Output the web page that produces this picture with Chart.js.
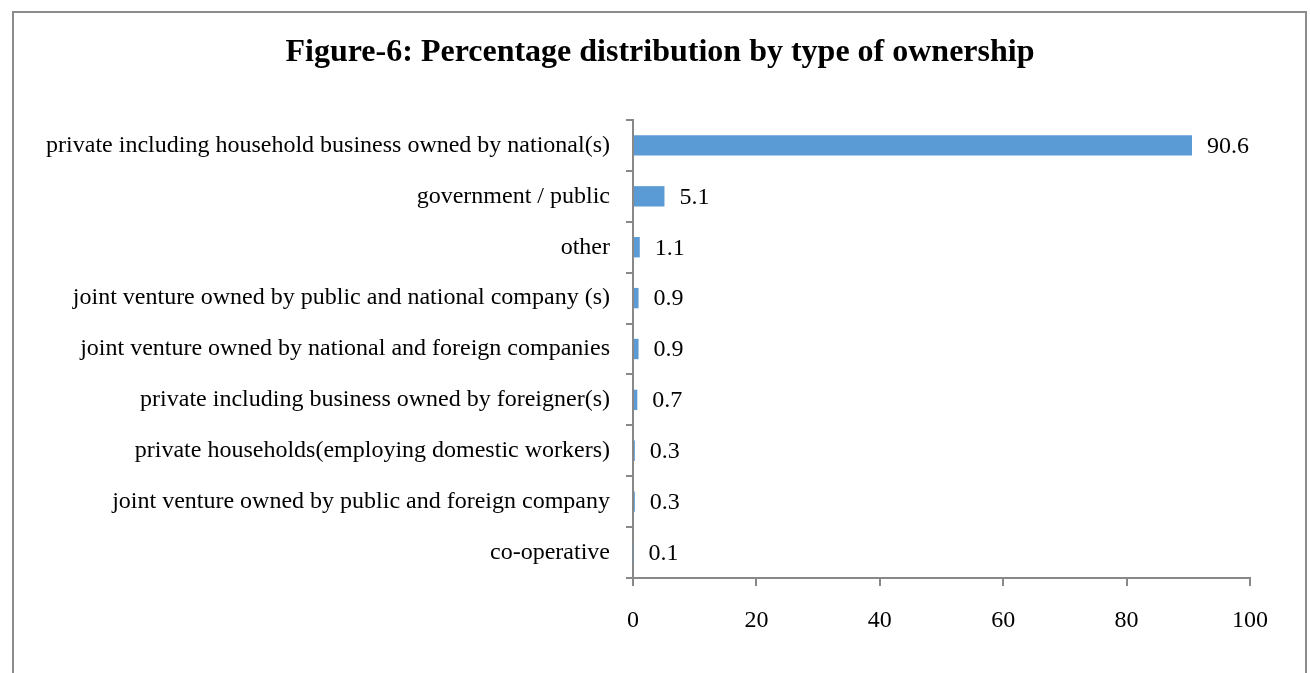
<!DOCTYPE html>
<html>
<head>
<meta charset="utf-8">
<script src="https://cdn.jsdelivr.net/npm/chart.js@4/dist/chart.umd.min.js"></script>
<style>
  html, body { margin: 0; padding: 0; background: #fff; }
  #wrap { width: 1310px; height: 673px; position: relative; }
</style>
</head>
<body>
<div id="wrap"><canvas id="c" width="1310" height="673"></canvas></div>
<script>
const titleText = 'Figure-6: Percentage distribution by type of ownership';

const categories = [
  'private including household business owned by national(s)',
  'government / public',
  'other',
  'joint venture owned by public and national company (s)',
  'joint venture owned by national and foreign companies',
  'private including business owned by foreigner(s)',
  'private households(employing domestic workers)',
  'joint venture owned by public and foreign company',
  'co-operative'
];

const shares = [90.6, 5.1, 1.1, 0.9, 0.9, 0.7, 0.3, 0.3, 0.1];

const xTicks = [0, 20, 40, 60, 80, 100];

const serif = '"Liberation Serif", "Times New Roman", serif';
const axisGray = '#888888';

// Frame around the figure and the heading above the plot
const framePlugin = {
  id: 'frame',
  beforeDraw(chart) {
    const ctx = chart.ctx;
    ctx.save();
    ctx.strokeStyle = '#8c8c8c';
    ctx.lineWidth = 2;
    ctx.beginPath();
    ctx.moveTo(13, 700);
    ctx.lineTo(13, 12);
    ctx.lineTo(1306, 12);
    ctx.lineTo(1306, 700);
    ctx.stroke();
    ctx.fillStyle = '#000';
    ctx.font = 'bold 32px ' + serif;
    ctx.textAlign = 'center';
    ctx.textBaseline = 'middle';
    ctx.fillText(titleText, 660, 53);
    ctx.restore();
  }
};

// Value printed to the right of each bar
const valueLabels = {
  id: 'valueLabels',
  afterDatasetsDraw(chart) {
    const ctx = chart.ctx;
    const meta = chart.getDatasetMeta(0);
    ctx.save();
    ctx.fillStyle = '#000';
    ctx.font = '24px ' + serif;
    ctx.textAlign = 'left';
    ctx.textBaseline = 'middle';
    meta.data.forEach((bar, i) => {
      ctx.fillText(shares[i].toFixed(1), bar.x + 15, bar.y + 1);
    });
    ctx.restore();
  }
};

new Chart(document.getElementById('c'), {
  type: 'bar',
  data: {
    labels: categories,
    datasets: [{
      data: shares,
      backgroundColor: '#5B9BD5',
      borderWidth: 0,
      categoryPercentage: 1,
      barPercentage: 0.4
    }]
  },
  options: {
    indexAxis: 'y',
    responsive: false,
    animation: false,
    layout: { padding: { top: 120, right: 60, left: 0, bottom: 0 } },
    plugins: {
      legend: { display: false },
      tooltip: { enabled: false }
    },
    scales: {
      x: {
        min: 0,
        max: 100,
        afterBuildTicks(scale) {
          scale.ticks = xTicks.map(v => ({ value: v }));
        },
        afterFit(scale) { scale.height = 95; },
        grid: {
          drawOnChartArea: false,
          drawTicks: true,
          tickLength: 8,
          color: axisGray,
          lineWidth: 2
        },
        border: { color: axisGray, width: 2 },
        ticks: {
          color: '#000',
          font: { family: serif, size: 24 },
          padding: 20,
          maxRotation: 0
        }
      },
      y: {
        afterFit(scale) { scale.width = 633; },
        grid: {
          offset: true,
          drawOnChartArea: false,
          drawTicks: true,
          tickLength: 7,
          color: axisGray,
          lineWidth: 2
        },
        border: { color: axisGray, width: 2 },
        ticks: {
          color: '#000',
          font: { family: serif, size: 24 },
          padding: 16,
          autoSkip: false
        }
      }
    }
  },
  plugins: [framePlugin, valueLabels]
});
</script>
</body>
</html>
